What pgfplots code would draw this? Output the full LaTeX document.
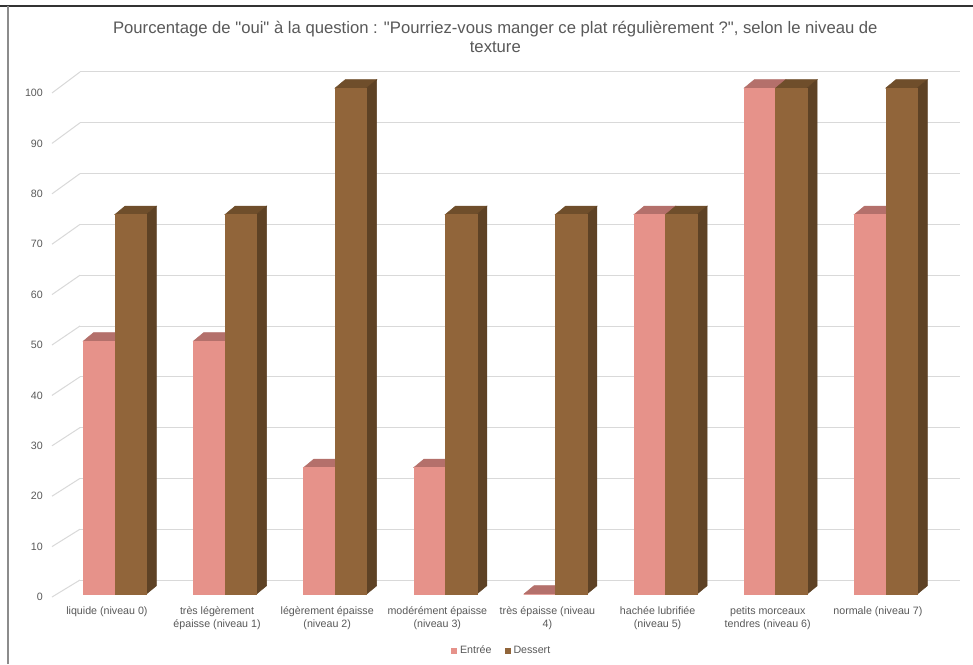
\documentclass[border=0pt]{standalone}
\usepackage{pgfplots}
\pgfplotsset{compat=1.18}
\usepackage{fontspec}
\setmainfont{Liberation Sans}[Ligatures=TeXOff]
\definecolor{txt}{HTML}{595959}
\definecolor{gridc}{HTML}{D9D9D9}
\definecolor{entF}{HTML}{E6928A}
\definecolor{entS}{HTML}{B86D67}
\definecolor{entT}{HTML}{B4706B}
\definecolor{desF}{HTML}{91653A}
\definecolor{desS}{HTML}{5E4225}
\definecolor{desT}{HTML}{6F4E2B}
\pgfdeclareplotmark{blank}{}
\pgfplotsset{
  prism/.style n args={4}{%
    only marks, mark=blank, scatter, forget plot,
    visualization depends on={rawy \as \val},
    scatter/@pre marker code/.code={%
      \pgfmathsetmacro\hh{\val*3.795}%
      \fill[#4] (#1pt,0pt) -- ++(7.5pt,6.2pt) -- ++(23.6pt,0pt) -- ++(-7.5pt,-6.2pt) -- cycle;
      \fill[#3] ({#1pt+23.6pt},0pt) -- ++(7.5pt,6.2pt) -- ++(0pt,-\hh pt) -- ++(-7.5pt,-6.2pt) -- cycle;
      \fill[#2] (#1pt,0pt) rectangle ++(23.6pt,-\hh pt);
    },
    scatter/@post marker code/.code={},
  }
}
\begin{document}
\begin{tikzpicture}
\useasboundingbox (0,0) rectangle (729.75pt,498pt);
\fill[white] (0,0) rectangle (729.75pt,498pt);
% frame
\draw[color=black!80, line width=1.5pt] (0,493.5pt) -- (729.75pt,493.5pt);
\draw[color=black!45, line width=1.2pt] (6pt,0) -- (6pt,493.5pt);
% title
\node[font=\fontsize{12.5}{14.25}\selectfont, text=txt, align=center, anchor=center] at (371.5pt,470.6pt)
  {Pourcentage de "oui" à la question : "Pourriez-vous manger ce plat régulièrement ?", selon le niveau de\\texture};
% back wall
\begin{axis}[
  at={(60pt,63pt)}, anchor=south west, scale only axis,
  width=660pt, height=381pt,
  xmin=0, xmax=1, ymin=0, ymax=100,
  axis line style={draw=none}, tick style={draw=none},
  xtick=\empty, ytick={0,10,...,100}, yticklabels={},
  ymajorgrids, major grid style={color=gridc, line width=0.75pt},
  clip=false,
]
\addplot[draw=none] coordinates {(0,0)};
\pgfplotsinvokeforeach{0,10,20,30,40,50,60,70,80,90,100}{
  \draw[color=gridc, line width=0.75pt] (axis cs:0,#1) -- ([shift={(-21pt,{-(12.75+0.03*#1)*1pt})}]axis cs:0,#1)
    node[anchor=east, inner sep=0pt, xshift=-6.5pt, text=txt, font=\fontsize{8}{10}\selectfont] {#1};
}
\end{axis}
% bars
\begin{axis}[
  at={(44.9pt,52.5pt)}, anchor=south west, scale only axis,
  width=660.8pt, height=379.5pt,
  xmin=-0.5, xmax=7.5, ymin=0, ymax=100,
  axis line style={draw=none}, tick style={draw=none},
  ytick=\empty, xtick={0,...,7},
  xticklabels={{liquide (niveau 0)},{très légèrement\\épaisse (niveau 1)},{légèrement épaisse\\(niveau 2)},{modérément épaisse\\(niveau 3)},{très épaisse (niveau\\4)},{hachée lubrifiée\\(niveau 5)},{petits morceaux\\tendres (niveau 6)},{normale (niveau 7)}},
  xticklabel style={font=\fontsize{8}{10}\selectfont, text=txt, align=center, anchor=north, xshift=-6pt, yshift=-6pt},
  clip=false,
  legend style={at={(0.502,-0.1126)}, anchor=center, legend columns=2, draw=none, fill=none,
    font=\fontsize{8}{10}\selectfont, text=txt, /tikz/every even column/.append style={column sep=8pt}},
  legend image code/.code={\fill (0pt,-2.25pt) rectangle (4.5pt,2.25pt);},
]
\addplot[prism={-23.6}{entF}{entS}{entT}] coordinates {(0,50) (1,50) (2,25) (3,25) (4,0) (5,75) (6,100) (7,75)};
\addplot[prism={0}{desF}{desS}{desT}] coordinates {(0,75) (1,75) (2,100) (3,75) (4,75) (5,75) (6,100) (7,100)};
\addlegendimage{fill=entF, draw=none}
\addlegendentry{Entrée}
\addlegendimage{fill=desF, draw=none}
\addlegendentry{Dessert}
\end{axis}
\end{tikzpicture}
\end{document}
